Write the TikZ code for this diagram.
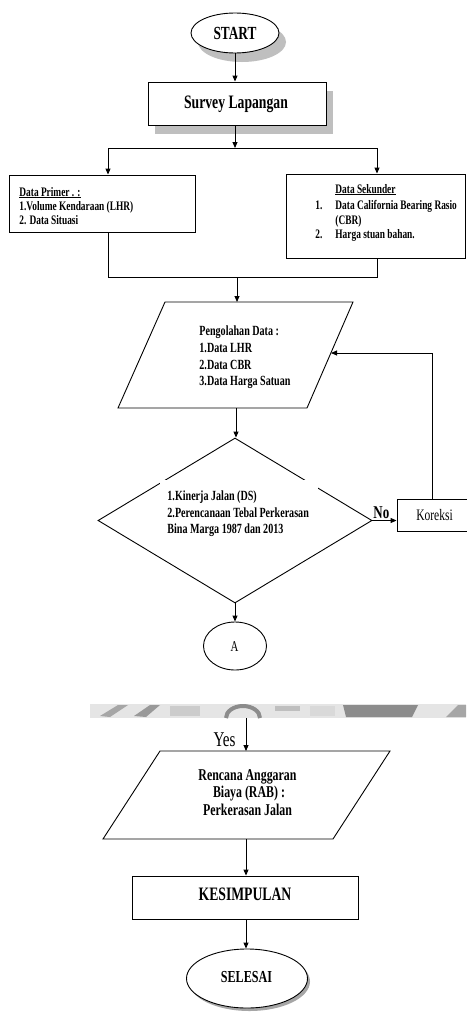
\documentclass[tikz,border=0pt]{standalone}
\usepackage{fontspec}
\setmainfont{Liberation Serif}[FakeStretch=0.72]
\usetikzlibrary{shapes.geometric,arrows.meta,shadows}
\begin{document}
\begin{tikzpicture}[x=1pt,y=-1pt,
  line width=0.9pt,
  arr/.style={-{Triangle[length=6pt,width=5pt]}},
  boxst/.style={draw,rectangle,inner sep=0pt},
  ovalst/.style={draw,ellipse,inner sep=0pt,fill=white},
  shad/.style={drop shadow={shadow xshift=7pt,shadow yshift=-9pt,fill=black!25,opacity=1}},
  txt/.style={inner sep=0pt,anchor=base west},
  ctxt/.style={inner sep=0pt,anchor=base},
  fA/.style={font=\fontsize{13}{15}\selectfont\bfseries},
  fB/.style={font=\fontsize{14}{17}\selectfont\bfseries}]
\useasboundingbox (0,0) rectangle (466,1012);
\fill[white] (0,0) rectangle (466,1012);

% START
\node[ovalst,shad,minimum width=88pt,minimum height=40pt] (start) at (235,33) {};
\node[ctxt,font=\fontsize{18.5}{20}\selectfont\bfseries] (starttxt) at (235,39.5) {START};

% Survey
\node[boxst,fill=white,shad,minimum width=178pt,minimum height=43pt] (survey) at (237,103.5) {};
\node[ctxt,font=\fontsize{19}{21}\selectfont\bfseries] (surveytxt) at (236,108.5) {Survey Lapangan};

\coordinate (split) at (235,148);
\coordinate (splitL) at (108,148);
\coordinate (splitR) at (377,148);
\draw[arr] (start.south) -- (start.south |- survey.north);
\draw[arr] (survey.south -| split) -- (split);
\draw (splitL) -- (splitR);

% Data Primer
\node[boxst,minimum width=186pt,minimum height=57pt] (primer) at (102,203.5) {};
\node[txt,fA] (pr1) at (19,196) {\underline{Data Primer . :}};
\node[txt,fA] (pr2) at (19,210) {1.Volume Kendaraan (LHR)};
\node[txt,fA] (pr3) at (19,224) {2. Data Situasi};

% Data Sekunder
\node[boxst,minimum width=179pt,minimum height=84pt] (sekunder) at (375.5,216) {};
\node[txt,fA] (sk1) at (335,193) {\underline{Data Sekunder}};
\node[txt,fA] (sk2n) at (315,209) {1.};
\node[txt,fA] (sk2) at (335,209) {Data California Bearing Rasio};
\node[txt,fA] (sk3) at (335,224) {(CBR)};
\node[txt,fA] (sk4n) at (315,238) {2.};
\node[txt,fA] (sk4) at (335,238) {Harga stuan bahan.};

\draw[arr] (splitL) -- (splitL |- primer.north);
\draw[arr] (splitR) -- (splitR |- sekunder.north);

\coordinate (mergeL) at (108,277);
\coordinate (mergeR) at (377,277);
\coordinate (merge) at (237,277);
\draw (splitL |- primer.south) -- (mergeL) -- (mergeR) -- (splitR |- sekunder.south);

% Pengolahan parallelogram
\coordinate (p1tl) at (165,302);
\coordinate (p1tr) at (353,302);
\coordinate (p1br) at (307,408);
\coordinate (p1bl) at (118,408);
\coordinate (p1top) at (237,302);
\coordinate (p1bot) at (236,408);
\coordinate (p1right) at (331,353);
\draw[fill=white,line join=miter] (p1tl) -- (p1tr) -- (p1br) -- (p1bl) -- cycle;
\node[txt,fB] (pg1) at (199,335) {Pengolahan Data :};
\node[txt,fB] (pg2) at (199,352) {1.Data LHR};
\node[txt,fB] (pg3) at (199,369) {2.Data CBR};
\node[txt,fB] (pg4) at (199,385.5) {3.Data Harga Satuan};
\draw[arr] (merge) -- (p1top);

% Diamond
\node[draw,diamond,inner sep=0pt,minimum width=274pt,minimum height=165pt] (dia) at (235,520.5) {};
\fill[white] (160,480) rectangle (318,540);
\node[txt,fB] (d1) at (167,500) {1.Kinerja Jalan (DS)};
\node[txt,fB] (d2) at (167,517) {2.Perencanaan Tebal Perkerasan};
\node[txt,fB] (d3) at (167,533.5) {Bina Marga 1987 dan 2013};
\draw[arr] (p1bot) -- (p1bot |- dia.north);

% Koreksi
\node[boxst,minimum width=70pt,minimum height=32pt] (kor) at (432,515.5) {};
\node[ctxt,font=\fontsize{16}{18}\selectfont] (kortxt) at (434.5,520.5) {Koreksi};
\draw[arr] (dia.east) -- (dia.east -| kor.west);
\node[txt,font=\fontsize{18}{20}\selectfont\bfseries] (no) at (373,518) {No};
\draw[arr] (kor.north) |- (p1right);

% A
\node[ovalst,minimum width=63pt,minimum height=48pt] (A) at (235,646) {};
\node[ctxt,font=\fontsize{15}{17}\selectfont] (Atxt) at (234.5,651) {A};
\draw[arr] (dia.south) -- (A.north);

% scanned gray band
\fill[black!10] (90,704) rectangle (466,718);
\fill[black!35] (100,716) -- (118,705) -- (128,705) -- (110,717) -- cycle;
\fill[black!40] (134,716) -- (150,705) -- (160,705) -- (146,717) -- cycle;
\fill[black!20] (170,706) rectangle (200,716);
\draw[black!45,line width=4pt] (226,718) arc[start angle=180,end angle=0,x radius=17pt,y radius=12pt];
\fill[black!25] (275,706) rectangle (300,711);
\fill[black!15] (310,706) rectangle (335,716);
\fill[black!45] (343,705) -- (418,705) -- (412,717) -- (346,717) -- cycle;
\fill[black!35] (446,717) -- (458,705) -- (466,705) -- (466,717) -- cycle;

% RAB parallelogram
\coordinate (p2tl) at (160,751);
\coordinate (p2tr) at (390,751);
\coordinate (p2br) at (333,839);
\coordinate (p2bl) at (103,839);
\coordinate (p2top) at (246,751);
\coordinate (p2bot) at (246,839);
\coordinate (yesstart) at (246,718);
\draw[fill=white,line join=miter] (p2tl) -- (p2tr) -- (p2br) -- (p2bl) -- cycle;
\node[ctxt,font=\fontsize{16.5}{18}\selectfont\bfseries] (r1) at (247.5,780) {Rencana Anggaran};
\node[ctxt,font=\fontsize{16.5}{18}\selectfont\bfseries] (r2) at (249,797.5) {Biaya (RAB) :};
\node[ctxt,font=\fontsize{16.5}{18}\selectfont\bfseries] (r3) at (247.5,815) {Perkerasan Jalan};
\draw[arr] (yesstart) -- (p2top);
\node[ctxt,font=\fontsize{21}{23}\selectfont] (yes) at (224.5,746) {Yes};

% KESIMPULAN
\node[boxst,minimum width=226pt,minimum height=43pt] (kes) at (245,897.5) {};
\node[ctxt,font=\fontsize{19}{21}\selectfont\bfseries] (kestxt) at (245,900) {KESIMPULAN};
\draw[arr] (p2bot) -- (p2bot |- kes.north);

% SELESAI
\node[ovalst,minimum width=121pt,minimum height=59pt,drop shadow={shadow xshift=2.5pt,shadow yshift=-3pt,fill=black!35,opacity=1}] (sel) at (247,978.5) {};
\node[ctxt,font=\fontsize{16.8}{19}\selectfont\bfseries] (seltxt) at (246.5,982) {SELESAI};
\draw[arr] (kes.south -| p2bot) -- (p2bot |- sel.north);
\end{tikzpicture}
\end{document}
